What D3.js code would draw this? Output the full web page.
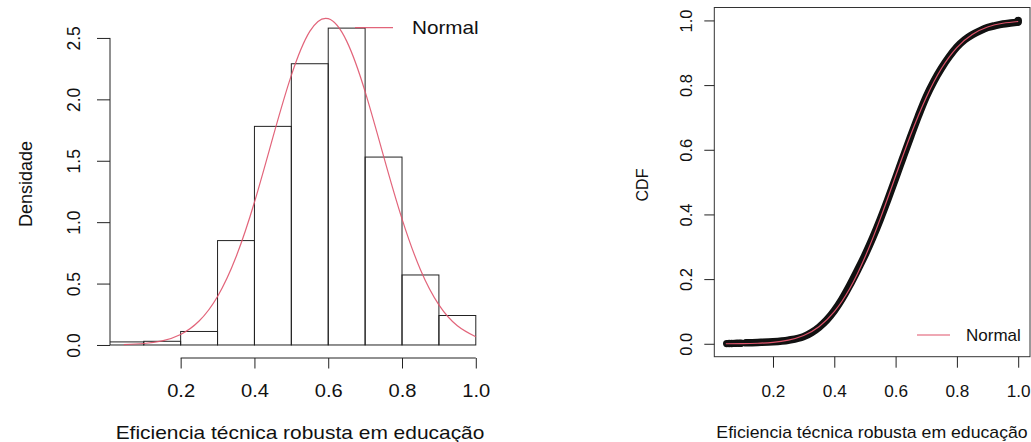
<!DOCTYPE html>
<html>
<head>
<meta charset="utf-8">
<script src="https://cdn.jsdelivr.net/npm/d3@7"></script>
<style>
  body { margin: 0; background: #fff; }
  svg { display: block; font-family: "Liberation Sans", Arial, Helvetica, sans-serif; }
</style>
</head>
<body>
<svg id="chart" width="1031" height="442"></svg>
<script>
// histogram (density scale)
const breaks = [0.0, 0.1, 0.2, 0.3, 0.4, 0.5, 0.6, 0.7, 0.8, 0.9, 1.0];
const density = [0.025, 0.03, 0.11, 0.85, 1.78, 2.29, 2.58, 1.53, 0.57, 0.24];

// fitted normal
const normX = [0.046, 0.1, 0.15, 0.2, 0.25, 0.3, 0.35, 0.4, 0.45, 0.5, 0.55, 0.6, 0.65, 0.7, 0.75, 0.8, 0.85, 0.9, 0.95, 1.0];
const normDens = [0.003, 0.012, 0.034, 0.086, 0.195, 0.395, 0.716, 1.162, 1.69, 2.195, 2.553, 2.657, 2.474, 2.063, 1.538, 1.027, 0.613, 0.327, 0.157, 0.067];
const normCdf = [0.0001, 0.0005, 0.0016, 0.0044, 0.0111, 0.0254, 0.0526, 0.0991, 0.170, 0.2676, 0.387, 0.5187, 0.648, 0.762, 0.852, 0.916, 0.9567, 0.9797, 0.9913, 0.9967];

// empirical CDF band
const ecdfX = [0.112, 0.15, 0.2, 0.25, 0.3, 0.325, 0.35, 0.375, 0.4, 0.425, 0.45, 0.475, 0.5, 0.525, 0.55, 0.575, 0.6, 0.625, 0.65, 0.675, 0.7, 0.725, 0.75, 0.775, 0.8, 0.825, 0.85, 0.875, 0.9, 0.925, 0.95, 0.975, 0.995];
const ecdfY = [0.003, 0.004, 0.006, 0.011, 0.022, 0.034, 0.051, 0.073, 0.102, 0.138, 0.18, 0.226, 0.274, 0.327, 0.385, 0.447, 0.512, 0.578, 0.643, 0.706, 0.764, 0.812, 0.853, 0.888, 0.918, 0.94, 0.956, 0.968, 0.978, 0.984, 0.989, 0.992, 0.994];
// isolated points at the low end and the jump at 1.0
const dotX = [0.049, 0.057, 0.065, 0.073, 0.081, 0.089, 0.096, 1.0, 1.0];
const dotY = [0.0005, 0.0008, 0.001, 0.0012, 0.0014, 0.0016, 0.0018, 0.995, 1.0];

const xTicks = [0.2, 0.4, 0.6, 0.8, 1.0];
const yTicksL = [0.0, 0.5, 1.0, 1.5, 2.0, 2.5];
const yTicksR = [0.0, 0.2, 0.4, 0.6, 0.8, 1.0];

const red = "#DF536B";
const ink = "#222";
const svg = d3.select("#chart");

// ---------- left: histogram + density ----------
const xL = d3.scaleLinear().domain([0.0085, 1.0385]).range([110, 490]);
const yL = d3.scaleLinear().domain([-0.106, 2.756]).range([358, 6.5]);
const L = svg.append("g");
const sxL = 1.15;

L.append("clipPath").attr("id", "clipL")
  .append("rect").attr("x", 110).attr("y", 0).attr("width", 380).attr("height", 358);

const bins = density.map((d, i) => ({ x0: breaks[i], x1: breaks[i + 1], d }));
L.append("g").attr("clip-path", "url(#clipL)")
  .selectAll("rect").data(bins).join("rect")
  .attr("x", d => xL(d.x0))
  .attr("y", d => yL(d.d))
  .attr("width", d => xL(d.x1) - xL(d.x0))
  .attr("height", d => yL(0) - yL(d.d))
  .attr("fill", "none").attr("stroke", ink).attr("stroke-width", 1);

L.append("path")
  .datum(normX.map((x, i) => [x, normDens[i]]))
  .attr("fill", "none").attr("stroke", red).attr("stroke-width", 1.2).attr("stroke-opacity", 0.9)
  .attr("d", d3.line().x(d => xL(d[0])).y(d => yL(d[1])).curve(d3.curveNatural));

// x axis
const axL = L.append("g").attr("transform", "translate(0,358)")
  .call(d3.axisBottom(xL).tickValues(xTicks).tickSize(10.5).tickFormat(d3.format(".1f")));
axL.select(".domain").remove();
axL.append("line").attr("x1", xL(xTicks[0])).attr("x2", xL(xTicks[xTicks.length - 1]))
  .attr("stroke", ink);
axL.selectAll(".tick line").attr("stroke", ink);
axL.selectAll(".tick text").attr("y", 0).attr("dy", 0)
  .attr("transform", `translate(0,39) scale(${sxL},1)`)
  .attr("font-size", 17.5).attr("fill", "#111").attr("font-family", null);

// y axis
const ayL = L.append("g").attr("transform", "translate(110,0)")
  .call(d3.axisLeft(yL).tickValues(yTicksL).tickSize(13).tickFormat(d3.format(".1f")));
ayL.select(".domain").remove();
ayL.append("line").attr("y1", yL(yTicksL[0])).attr("y2", yL(yTicksL[yTicksL.length - 1]))
  .attr("stroke", ink);
ayL.selectAll(".tick line").attr("stroke", ink);
ayL.selectAll(".tick text").attr("x", 0).attr("dy", 0).attr("y", -30)
  .attr("transform", "rotate(-90)").attr("text-anchor", "middle")
  .attr("font-size", 17.5).attr("fill", "#111").attr("font-family", null);

L.append("text").attr("transform", `translate(300,439) scale(${sxL},1)`)
  .attr("text-anchor", "middle").attr("font-size", 18.2).attr("fill", "#111")
  .text("Eficiencia técnica robusta em educação");
L.append("text").attr("transform", "translate(32,184) rotate(-90)")
  .attr("text-anchor", "middle").attr("font-size", 18).attr("fill", "#111")
  .text("Densidade");

// legend
L.append("line").attr("x1", 355).attr("x2", 393).attr("y1", 27.7).attr("y2", 27.7)
  .attr("stroke", red).attr("stroke-width", 1.2).attr("stroke-opacity", 0.9);
L.append("text").attr("transform", `translate(412,34) scale(${sxL},1)`)
  .attr("font-size", 18).attr("fill", "#111").text("Normal");

// ---------- right: CDF ----------
const xR = d3.scaleLinear().domain([0.0085, 1.0385]).range([714.3, 1030]);
const yR = d3.scaleLinear().domain([-0.04, 1.04]).range([356.7, 7.5]);
const R = svg.append("g");
const sxR = 1.04;

R.append("rect").attr("x", 714.3).attr("y", 7.5).attr("width", 315.7).attr("height", 349.2)
  .attr("fill", "none").attr("stroke", "#333").attr("stroke-width", 1);

R.append("path")
  .datum(ecdfX.map((x, i) => [x, ecdfY[i]]))
  .attr("fill", "none").attr("stroke", "#111").attr("stroke-width", 7.5)
  .attr("stroke-linecap", "round").attr("stroke-linejoin", "round")
  .attr("d", d3.line().x(d => xR(d[0])).y(d => yR(d[1])).curve(d3.curveMonotoneX));

R.append("g").selectAll("circle").data(dotX.map((x, i) => [x, dotY[i]])).join("circle")
  .attr("cx", d => xR(d[0])).attr("cy", d => yR(d[1])).attr("r", 3.7).attr("fill", "#111");

R.append("path")
  .datum(normX.map((x, i) => [x, normCdf[i]]))
  .attr("fill", "none").attr("stroke", red).attr("stroke-width", 1.2)
  .attr("d", d3.line().x(d => xR(d[0])).y(d => yR(d[1])).curve(d3.curveNatural));

const axR = R.append("g").attr("transform", "translate(0,356.7)")
  .call(d3.axisBottom(xR).tickValues(xTicks).tickSize(11).tickFormat(d3.format(".1f")));
axR.select(".domain").remove();
axR.selectAll(".tick line").attr("stroke", ink);
axR.selectAll(".tick text").attr("y", 0).attr("dy", 0)
  .attr("transform", `translate(0,40) scale(${sxR},1)`)
  .attr("font-size", 16.5).attr("fill", "#111").attr("font-family", null);

const ayR = R.append("g").attr("transform", "translate(714.3,0)")
  .call(d3.axisLeft(yR).tickValues(yTicksR).tickSize(10).tickFormat(d3.format(".1f")));
ayR.select(".domain").remove();
ayR.selectAll(".tick line").attr("stroke", ink);
ayR.selectAll(".tick text").attr("x", 0).attr("dy", 0).attr("y", -22.5)
  .attr("transform", "rotate(-90)").attr("text-anchor", "middle")
  .attr("font-size", 16.5).attr("fill", "#111").attr("font-family", null);

R.append("text").attr("transform", `translate(872,438) scale(${sxR},1)`)
  .attr("text-anchor", "middle").attr("font-size", 17).attr("fill", "#111")
  .text("Eficiencia técnica robusta em educação");
R.append("text").attr("transform", "translate(648,185) rotate(-90)")
  .attr("text-anchor", "middle").attr("font-size", 16).attr("fill", "#111")
  .text("CDF");

R.append("line").attr("x1", 917).attr("x2", 950).attr("y1", 335).attr("y2", 335)
  .attr("stroke", red).attr("stroke-width", 1.2);
R.append("text").attr("x", 966).attr("y", 341)
  .attr("font-size", 17).attr("fill", "#111").text("Normal");
</script>
</body>
</html>
